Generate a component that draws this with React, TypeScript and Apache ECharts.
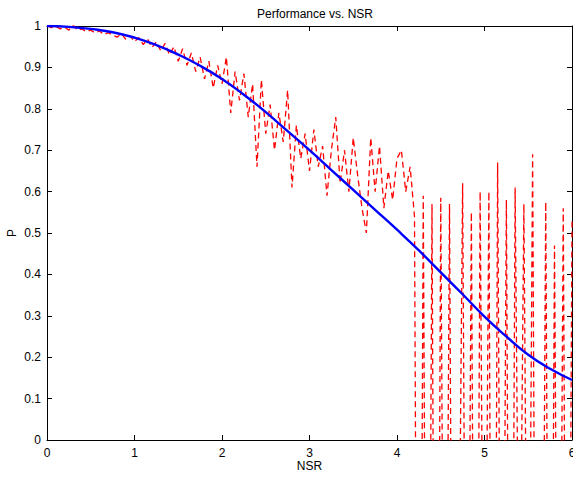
import React, { useEffect, useRef } from "react";
import * as echarts from "echarts";

const titleText = "Performance vs. NSR";
const xName = "NSR";
const yName = "P";

// NSR sampling step for the measured (red) series
const measuredStep = 0.05;
const measuredP = [
  1.0, 0.996, 0.999, 0.993, 0.997, 0.99, 1.002, 0.989, 0.993, 0.986,
  0.99, 0.983, 0.988, 0.979, 0.984, 0.978, 0.973, 0.982, 0.968, 0.976,
  0.962, 0.972, 0.955, 0.968, 0.948, 0.962, 0.94, 0.958, 0.93, 0.95,
  0.915, 0.945, 0.905, 0.935, 0.89, 0.925, 0.872, 0.915, 0.85, 0.905,
  0.86, 0.925, 0.79, 0.89, 0.82, 0.885, 0.78, 0.86, 0.66, 0.87,
  0.74, 0.81, 0.7, 0.79, 0.72, 0.845, 0.61, 0.76, 0.68, 0.74,
  0.65, 0.75, 0.66, 0.71, 0.59, 0.7, 0.78, 0.62, 0.7, 0.6,
  0.73, 0.64, 0.56, 0.5, 0.73, 0.6, 0.71, 0.56, 0.65, 0.58,
  0.68, 0.7, 0.6, 0.66, 0.54, -1.8, 0.59, -1.5, 0.57, -1.8,
  0.585, -1.2, 0.57, -1.5, -0.6, 0.62, -1.2, 0.55, -1.5, 0.6,
  -0.9, 0.6, -1.8, 0.67, -1.2, 0.58, -1.5, 0.61, -0.6, 0.57,
  -0.9, 0.69, -1.5, -1.2, 0.575, -1.5, 0.47, -1.2, 0.56, -1.5,
  0.53,
];

// Theoretical (blue) curve, read every 0.25 NSR
const theoryNSR = [
  0, 0.25, 0.5, 0.75, 1, 1.25, 1.5, 1.75, 2, 2.25, 2.5, 2.75, 3,
  3.25, 3.5, 3.75, 4, 4.25, 4.5, 4.75, 5, 5.25, 5.5, 5.75, 6,
];
const theoryP = [
  1.0, 0.998, 0.993, 0.985, 0.972, 0.954, 0.931, 0.904, 0.872, 0.834,
  0.792, 0.746, 0.7, 0.652, 0.604, 0.556, 0.508, 0.458, 0.405, 0.352,
  0.298, 0.25, 0.206, 0.172, 0.145,
];

const xTicks = { min: 0, max: 6, interval: 1 };
const yTicks = { min: 0, max: 1, interval: 0.1 };

const FONT = "'Liberation Sans', Arial, Helvetica, sans-serif";

export default function App() {
  const ref = useRef<HTMLDivElement>(null);
  useEffect(() => {
    if (!ref.current) return;
    const chart = echarts.init(ref.current, null, { renderer: "svg" });
    const measured = measuredP.map((p, i) => [
      Number((i * measuredStep).toFixed(3)),
      p,
    ]);
    const theory = theoryNSR.map((x, i) => [x, theoryP[i]]);
    const axisLine = { show: true, onZero: false, lineStyle: { color: "#000", width: 1 } };
    const axisTick = { show: true, inside: true, length: 5, lineStyle: { color: "#000" } };
    const label = { color: "#000", fontFamily: FONT, fontSize: 12 };
    chart.setOption({
      animation: false,
      backgroundColor: "#fff",
      title: {
        text: titleText,
        left: 310,
        textAlign: "center",
        top: 3,
        textStyle: { color: "#000", fontFamily: FONT, fontSize: 12, fontWeight: "normal" },
      },
      grid: { left: 47, right: 1, top: 26, bottom: 38, outerBoundsMode: "none", containLabel: false },
      xAxis: [
        {
          type: "value",
          ...xTicks,
          position: "bottom",
          axisLine,
          axisTick,
          splitLine: { show: false },
          axisLabel: { ...label, margin: 7 },
          name: xName,
          nameLocation: "middle",
          nameGap: 20,
          nameMoveOverlap: false,
          nameTextStyle: { ...label },
        },
        {
          type: "value",
          ...xTicks,
          position: "top",
          axisLine,
          axisTick,
          splitLine: { show: false },
          axisLabel: { show: false },
        },
      ],
      yAxis: [
        {
          type: "value",
          ...yTicks,
          position: "left",
          axisLine,
          axisTick,
          splitLine: { show: false },
          axisLabel: { ...label, margin: 6 },
          name: yName,
          nameLocation: "middle",
          nameGap: 29,
          nameMoveOverlap: false,
          nameTextStyle: { ...label },
        },
        {
          type: "value",
          ...yTicks,
          position: "right",
          axisLine,
          axisTick,
          splitLine: { show: false },
          axisLabel: { show: false },
        },
      ],
      series: [
        {
          type: "line",
          data: measured,
          showSymbol: false,
          clip: true,
          lineStyle: { color: "#ff0000", width: 1.3, type: [6, 4] },
          z: 2,
        },
        {
          type: "line",
          data: theory,
          showSymbol: false,
          smooth: true,
          clip: true,
          lineStyle: { color: "#0000ff", width: 2.4 },
          z: 3,
        },
      ],
    });
    return () => chart.dispose();
  }, []);
  return (
    <div
      ref={ref}
      style={{ position: "fixed", left: 0, top: 0, width: 573, height: 478, background: "#fff" }}
    />
  );
}
